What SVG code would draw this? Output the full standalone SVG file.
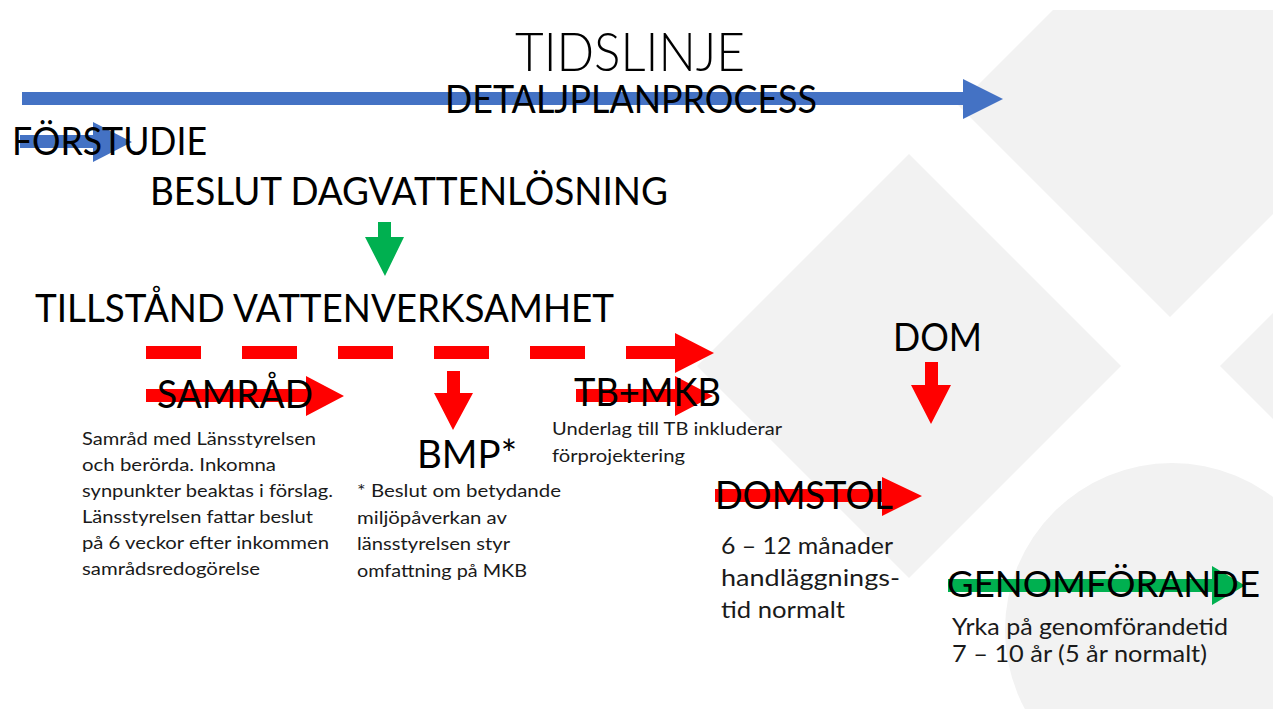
<svg xmlns="http://www.w3.org/2000/svg" width="1273" height="709" viewBox="0 0 1273 709">
<defs>
<style>
.bg{fill:#F2F2F2}
.t{font-family:Lato,"Liberation Sans",sans-serif;fill:#000}
.h{font-size:39px}
.light{font-weight:300;font-size:53px}
.b{font-size:17.5px;fill:#1a1a1a}
.m{font-size:22.5px;fill:#1a1a1a}
.blue{fill:#4472C4}
.red{fill:#FF0000}
.green{fill:#00B050}
</style>
</defs>
<rect width="1273" height="709" fill="#fff"/>
<g id="background">
<polygon class="bg" points="1053,10 1273,10 1273,214 1170,317 958,105"/>
<polygon class="bg" points="909,154 1121,366 909,578 697,366"/>
<polygon class="bg" points="1220,366 1273,313 1273,419"/>
<circle class="bg" cx="1172" cy="630" r="167"/>
</g>
<g id="connectors">
<polygon class="blue" points="22,92 963,92 963,79 1003,99 963,119 963,105 22,105"/>
<polygon class="blue" points="20,135 93,135 93,122 132,142 93,162 93,148 20,148"/>
<polygon class="green" points="378,222 391,222 391,237 404,237 385,276 365,237 378,237"/>
<line x1="146" y1="352.5" x2="675" y2="352.5" stroke="#FF0000" stroke-width="13" stroke-dasharray="55 41"/>
<polygon class="red" points="675,333 714,353 675,373"/>
<polygon class="red" points="146,389 306,389 306,376 344,396 306,416 306,402 146,402"/>
<polygon class="red" points="447,371 460,371 460,393 473,393 453,430 434,393 447,393"/>
<polygon class="red" points="576,389 675,389 675,376 713,396 675,416 675,402 576,402"/>
<polygon class="red" points="925,362 938,362 938,385 951,385 931,424 911,385 925,385"/>
<polygon class="red" points="715,489 882,489 882,477 922,496 882,516 882,502 715,502"/>
<polygon class="green" points="948,579 1212,579 1212,566 1245,585.5 1212,605 1212,592 948,592"/>
</g>
<g id="tidslinje"><text class="t light" x="515" y="70.5" textLength="230" lengthAdjust="spacingAndGlyphs">TIDSLINJE</text></g>
<g id="detaljplanprocess"><text class="t h" x="445" y="113" textLength="372" lengthAdjust="spacingAndGlyphs">DETALJPLANPROCESS</text></g>
<g id="forstudie"><text class="t h" x="12" y="155" textLength="195" lengthAdjust="spacingAndGlyphs">FÖRSTUDIE</text></g>
<g id="beslut"><text class="t h" x="150" y="205" textLength="518" lengthAdjust="spacingAndGlyphs">BESLUT DAGVATTENLÖSNING</text></g>
<g id="tillstand"><text class="t h" x="35" y="322" textLength="579" lengthAdjust="spacingAndGlyphs">TILLSTÅND VATTENVERKSAMHET</text></g>
<g id="samrad">
<text class="t h" x="157" y="408" textLength="156" lengthAdjust="spacingAndGlyphs">SAMRÅD</text>
<text class="t b" x="82" y="445" textLength="234" lengthAdjust="spacingAndGlyphs">Samråd med Länsstyrelsen</text>
<text class="t b" x="82" y="471" textLength="194" lengthAdjust="spacingAndGlyphs">och berörda. Inkomna</text>
<text class="t b" x="82" y="497" textLength="251" lengthAdjust="spacingAndGlyphs">synpunkter beaktas i förslag.</text>
<text class="t b" x="82" y="523" textLength="231" lengthAdjust="spacingAndGlyphs">Länsstyrelsen fattar beslut</text>
<text class="t b" x="82" y="549" textLength="247" lengthAdjust="spacingAndGlyphs">på 6 veckor efter inkommen</text>
<text class="t b" x="82" y="575" textLength="178" lengthAdjust="spacingAndGlyphs">samrådsredogörelse</text>
</g>
<g id="bmp">
<text class="t h" x="417" y="468" textLength="100" lengthAdjust="spacingAndGlyphs">BMP*</text>
<text class="t b" x="357" y="497" textLength="204" lengthAdjust="spacingAndGlyphs">* Beslut om betydande</text>
<text class="t b" x="357" y="524" textLength="150" lengthAdjust="spacingAndGlyphs">miljöpåverkan av</text>
<text class="t b" x="357" y="550" textLength="153" lengthAdjust="spacingAndGlyphs">länsstyrelsen styr</text>
<text class="t b" x="357" y="576.5" textLength="170" lengthAdjust="spacingAndGlyphs">omfattning på MKB</text>
</g>
<g id="tbmkb">
<text class="t h" x="574" y="406" textLength="147" lengthAdjust="spacingAndGlyphs">TB+MKB</text>
<text class="t b" x="552" y="435" textLength="230" lengthAdjust="spacingAndGlyphs">Underlag till TB inkluderar</text>
<text class="t b" x="552" y="461.5" textLength="133" lengthAdjust="spacingAndGlyphs">förprojektering</text>
</g>
<g id="dom"><text class="t h" x="893" y="351" textLength="89" lengthAdjust="spacingAndGlyphs">DOM</text></g>
<g id="domstol">
<text class="t h" x="715" y="509" textLength="178" lengthAdjust="spacingAndGlyphs">DOMSTOL</text>
<text class="t m" x="721" y="554" textLength="172" lengthAdjust="spacingAndGlyphs">6 – 12 månader</text>
<text class="t m" x="721" y="586" textLength="179" lengthAdjust="spacingAndGlyphs">handläggnings-</text>
<text class="t m" x="721" y="618" textLength="124" lengthAdjust="spacingAndGlyphs">tid normalt</text>
</g>
<g id="genomforande">
<text class="t" font-size="37.5" x="947" y="597" textLength="313" lengthAdjust="spacingAndGlyphs">GENOMFÖRANDE</text>
<text class="t m" x="952" y="635" textLength="276" lengthAdjust="spacingAndGlyphs">Yrka på genomförandetid</text>
<text class="t m" x="952" y="662" textLength="255" lengthAdjust="spacingAndGlyphs">7 – 10 år (5 år normalt)</text>
</g>
</svg>
